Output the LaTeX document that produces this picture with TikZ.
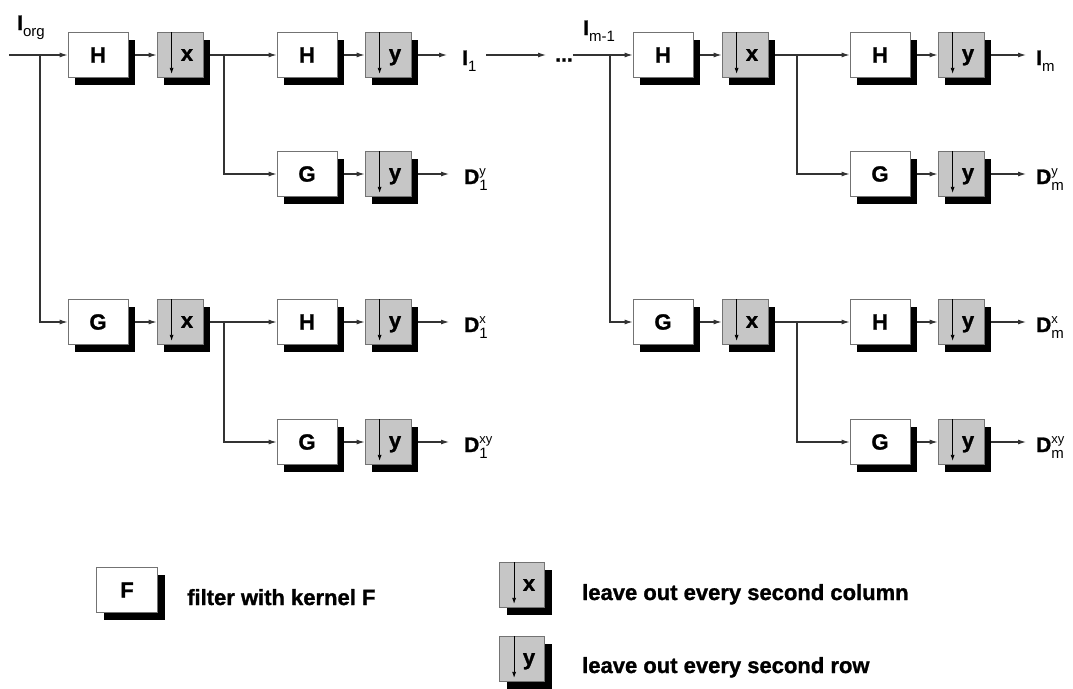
\documentclass[tikz,border=0pt]{standalone}
\usepackage{fontspec}
\setmainfont{Liberation Sans}[BoldFeatures={FakeBold=1.2}]
\usetikzlibrary{arrows.meta,shadows,calc}
\newcommand\lbl[3]{#1\rlap{\raisebox{9pt}{\fontsize{13}{13}\selectfont\mdseries #2}}\raisebox{-6pt}{\fontsize{15}{15}\selectfont\mdseries #3}}
\begin{document}
\begin{tikzpicture}[x=1pt,y=-1pt,
 boxbase/.style={draw=black!55, line width=0.8pt, minimum height=45pt, inner sep=0pt,
   drop shadow={shadow xshift=7pt, shadow yshift=-7pt, fill=black, opacity=1},
   font=\fontsize{22}{22}\selectfont\bfseries},
 filt/.style={boxbase, fill=white, minimum width=60pt},
 samp/.style={boxbase, fill=gray!45, minimum width=46pt, text depth=0pt},
 samparr/.style={black, line width=0.8pt, -{Latex[length=6pt,width=4pt]}},
 conn/.style={black!80, line width=1.1pt},
 arr/.style={conn, -{Latex[length=8pt,width=5pt]}},
 lab/.style={font=\fontsize{21}{21}\selectfont\bfseries, anchor=base west, inner sep=0pt},
 legtext/.style={font=\fontsize{22}{22}\selectfont\bfseries, anchor=base west, inner sep=0pt}]
\useasboundingbox (0,0) rectangle (1073,688);

% ---------- left block ----------
\node[filt] (h1) at (98,55) {H};
\node[samp] (sx1) at (180,55) {\hspace*{14pt}x};
\node[filt] (g1) at (98,322) {G};
\node[samp] (sx4) at (180,322) {\hspace*{14pt}x};

\node[filt] (h2) at (307,55) {H};
\node[samp] (sy2) at (388,55) {\hspace*{14pt}y};
\node[filt] (g2) at (307,174) {G};
\node[samp] (sy3) at (388,174) {\hspace*{14pt}y};
\node[filt] (h5) at (307,322) {H};
\node[samp] (sy5) at (388,322) {\hspace*{14pt}y};
\node[filt] (g6) at (307,442) {G};
\node[samp] (sy6) at (388,442) {\hspace*{14pt}y};

\node[lab] (lorg) at (17,30) {\lbl{I}{}{org}};
\node[lab] (l1) at (462,65) {\lbl{I}{}{1}};
\node[lab] (l2) at (464,184) {\lbl{D}{y}{1}};
\node[lab] (l3) at (464,332) {\lbl{D}{x}{1}};
\node[lab] (l4) at (464,452) {\lbl{D}{xy}{1}};

% ---------- right block ----------
\node[filt] (h3) at (663,55) {H};
\node[samp] (sx3) at (745,55) {\hspace*{14pt}x};
\node[filt] (g3) at (663,322) {G};
\node[samp] (sx7) at (745,322) {\hspace*{14pt}x};

\node[filt] (h8) at (880,55) {H};
\node[samp] (sy8) at (961,55) {\hspace*{14pt}y};
\node[filt] (g9) at (880,174) {G};
\node[samp] (sy9) at (961,174) {\hspace*{14pt}y};
\node[filt] (h10) at (880,322) {H};
\node[samp] (sy10) at (961,322) {\hspace*{14pt}y};
\node[filt] (g11) at (880,442) {G};
\node[samp] (sy11) at (961,442) {\hspace*{14pt}y};

\node[lab] (lm1) at (583,35) {\lbl{I}{}{m-1}};
\node[lab] (lm) at (1036,65) {\lbl{I}{}{m}};
\node[lab] (lm2) at (1036,184) {\lbl{D}{y}{m}};
\node[lab] (lm3) at (1036,332) {\lbl{D}{x}{m}};
\node[lab] (lm4) at (1036,452) {\lbl{D}{xy}{m}};

\node[inner sep=0pt, font=\fontsize{21}{21}\selectfont\bfseries] (dots) at (564,60) {...};

% ---------- legend ----------
\node[filt, minimum width=61pt] (lf) at (127,590) {F};
\node[legtext] (tf) at (187,605) {filter with kernel F};
\node[samp, minimum width=45pt] (lx) at (522,585) {\hspace*{14pt}x};
\node[legtext] (tx) at (582,600) {leave out every second column};
\node[samp, minimum width=45pt] (ly) at (522,659) {\hspace*{14pt}y};
\node[legtext] (ty) at (582,673) {leave out every second row};

% down arrows inside the sampling boxes
\foreach \s in {sx1,sx4,sy2,sy3,sy5,sy6,sx3,sx7,sy8,sy9,sy10,sy11,lx,ly}
  \draw[samparr] ([xshift=15pt]\s.north west) -- ([xshift=15pt,yshift=4pt]\s.south west);

% ---------- connectors, left ----------
\coordinate (in) at (9,55);
\coordinate (b1) at (40,55);
\coordinate (b2) at (224,55);
\coordinate (b3) at (224,322);
\draw[arr] (in) -- (h1.west);
\draw[arr] (b1) |- (g1.west);
\draw[arr] ([xshift=7pt]h1.east) -- (sx1.west);
\draw[arr] ([xshift=7pt]g1.east) -- (sx4.west);
\draw[arr] ([xshift=7pt]sx1.east) -- (h2.west);
\draw[arr] (b2) |- (g2.west);
\draw[arr] ([xshift=7pt]sx4.east) -- (h5.west);
\draw[arr] (b3) |- (g6.west);
\foreach \a/\b in {h2/sy2,g2/sy3,h5/sy5,g6/sy6,h8/sy8,g9/sy9,h10/sy10,g11/sy11}
  \draw[arr] ([xshift=7pt]\a.east) -- (\b.west);
\draw[arr, shorten >=15pt] ([xshift=7pt]sy2.east) -- (sy2.east -| l1.west);
\draw[arr, shorten >=15pt] ([xshift=7pt]sy3.east) -- (sy3.east -| l2.west);
\draw[arr, shorten >=15pt] ([xshift=7pt]sy5.east) -- (sy5.east -| l3.west);
\draw[arr, shorten >=15pt] ([xshift=7pt]sy6.east) -- (sy6.east -| l4.west);

% ---------- middle ----------
\coordinate (c1) at (486,55);
\draw[arr, shorten >=9pt] (c1) -- (c1 -| dots.west);
\draw[arr] (dots.east |- c1) -- (h3.west);

% ---------- connectors, right ----------
\coordinate (b4) at (610,55);
\coordinate (b5) at (797,55);
\coordinate (b6) at (797,322);
\draw[arr] (b4) |- (g3.west);
\draw[arr] ([xshift=7pt]h3.east) -- (sx3.west);
\draw[arr] ([xshift=7pt]g3.east) -- (sx7.west);
\draw[arr] ([xshift=7pt]sx3.east) -- (h8.west);
\draw[arr] (b5) |- (g9.west);
\draw[arr] ([xshift=7pt]sx7.east) -- (h10.west);
\draw[arr] (b6) |- (g11.west);
\draw[arr, shorten >=10pt] ([xshift=7pt]sy8.east) -- (sy8.east -| lm.west);
\draw[arr, shorten >=10pt] ([xshift=7pt]sy9.east) -- (sy9.east -| lm2.west);
\draw[arr, shorten >=10pt] ([xshift=7pt]sy10.east) -- (sy10.east -| lm3.west);
\draw[arr, shorten >=10pt] ([xshift=7pt]sy11.east) -- (sy11.east -| lm4.west);
\end{tikzpicture}
\end{document}
